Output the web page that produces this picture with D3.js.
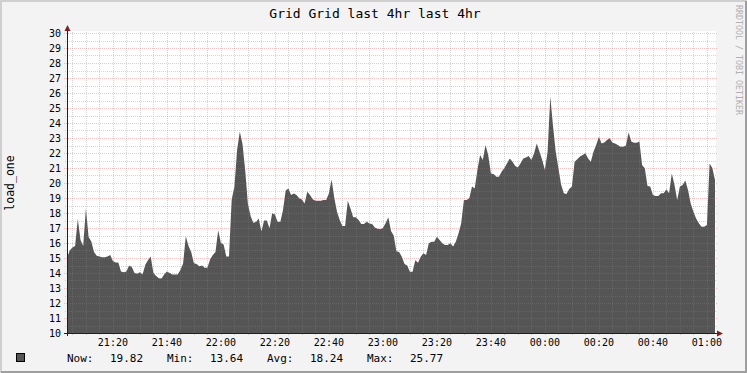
<!DOCTYPE html>
<html>
<head>
<meta charset="utf-8">
<script src="https://cdn.jsdelivr.net/npm/d3@7"></script>
<style>
    body { margin: 0; }
    svg { display: block; font-family: 'DejaVu Sans Mono', monospace; }
</style>
</head>
<body>
<div id="chart"></div>
<script>
const chartTitle = 'Grid Grid last 4hr last 4hr';
const yAxisLabel = 'load_one';
const watermark = 'RRDTOOL / TOBI OETIKER';

// one sample per minute starting at 21:03
const startTime = new Date(2024, 0, 1, 21, 3);
const endTime = new Date(2024, 0, 2, 1, 3);
const loadValues = [
    15.0, 15.5, 15.7, 15.8, 17.6, 16.2, 15.8, 18.3, 16.4, 16.1,
    15.4, 15.15, 15.1, 15.05, 15.05, 15.1, 15.2, 14.8, 14.7, 14.7,
    14.1, 14.05, 14.1, 14.5, 14.4, 14.0, 13.95, 14.05, 13.9, 14.55,
    14.85, 15.1, 14.0, 13.8, 13.65, 13.64, 13.9, 14.1, 14.0, 13.9,
    13.9, 13.9, 14.2, 14.64, 16.45, 15.8, 15.4, 14.65, 14.6, 14.45,
    14.5, 14.35, 14.35, 14.9, 15.2, 15.4, 16.85, 16.0, 15.9, 15.1,
    15.1, 18.9, 19.75, 22.2, 23.42, 22.6, 20.85, 18.6, 17.8, 17.35,
    17.4, 17.64, 16.76, 17.5, 17.5, 16.98, 17.98, 17.9, 17.42, 17.4,
    18.2, 19.5, 19.64, 19.2, 19.3, 19.2, 18.98, 18.9, 18.64, 19.42,
    19.2, 18.91, 18.82, 18.82, 18.82, 18.87, 18.87, 19.3, 20.24, 19.0,
    18.09, 17.53, 17.13, 17.13, 18.82, 18.3, 17.71, 17.71, 17.53, 17.27,
    17.27, 17.42, 17.3, 17.27, 17.04, 16.95, 16.91, 17.0, 17.31, 17.71,
    16.8, 16.5, 15.45, 15.4, 15.09, 14.6, 14.5, 14.09, 14.09, 14.85,
    14.69, 15.09, 15.31, 15.2, 15.98, 16.09, 16.09, 16.42, 16.2, 15.98,
    15.87, 15.87, 15.98, 15.76, 16.09, 16.64, 17.31, 18.87, 18.87, 18.98,
    19.76, 19.64, 20.87, 21.87, 21.53, 22.53, 21.87, 20.64, 20.6, 20.42,
    20.42, 20.76, 21.0, 21.31, 21.64, 21.42, 21.13, 21.04, 21.31, 21.64,
    21.7, 21.8, 21.53, 21.98, 22.64, 22.09, 21.53, 20.87, 22.09, 25.77,
    23.8, 22.09, 20.98, 19.9, 19.31, 19.27, 19.6, 19.76, 21.42, 21.58,
    21.76, 21.87, 21.98, 21.64, 21.42, 22.09, 22.53, 23.09, 22.64, 22.7,
    22.87, 22.98, 22.69, 22.64, 22.53, 22.42, 22.42, 22.5, 23.36, 22.76,
    22.69, 22.69, 22.76, 21.2, 20.98, 19.8, 19.76, 19.2, 19.13, 19.13,
    19.31, 19.31, 19.58, 19.31, 20.64, 19.87, 18.87, 19.76, 19.87, 20.16,
    19.53, 18.64, 18.09, 17.64, 17.31, 17.09, 17.09, 17.2, 21.3, 21.0,
    20.2
];

const yTickValues = d3.range(10, 31);
const legendLabels = ['Now:', 'Min:', 'Avg:', 'Max:'];
const legendValues = ['19.82', '13.64', '18.24', '25.77'];

const config = {
    width: 747,
    height: 373,
    plot: { left: 67, right: 715, top: 33, bottom: 333 },
    colors: {
        back: '#f3f3f3',
        shadeA: '#cfcfcf',
        shadeB: '#9e9e9e',
        canvas: '#ffffff',
        area: '#555555',
        grid: 'rgba(150,150,150,0.45)',
        mgrid: 'rgba(225,90,90,0.4)',
        overlay: 'rgba(255,255,255,0.09)',
        axis: '#1f1f1f',
        arrow: '#801f1f'
    }
};

const data = loadValues.map((v, i) => ({ time: d3.timeMinute.offset(startTime, i), value: v }));

const svg = d3.select('#chart')
    .append('svg')
    .attr('width', config.width)
    .attr('height', config.height)
    ;

// background and the 3d frame
svg.append('rect')
    .attr('width', config.width)
    .attr('height', config.height)
    .attr('fill', config.colors.back);

svg.append('path')
    .attr('d', `M0 ${config.height} V0 H${config.width}`)
    .attr('fill', 'none')
    .attr('stroke', config.colors.shadeA)
    .attr('stroke-width', 4);

svg.append('path')
    .attr('d', `M1 ${config.height - 1} H${config.width - 1} V1`)
    .attr('fill', 'none')
    .attr('stroke', config.colors.shadeB)
    .attr('stroke-width', 2);

const p = config.plot;

const x = d3.scaleTime()
    .domain([startTime, endTime])
    .range([p.left, p.right]);

const y = d3.scaleLinear()
    .domain([10, 30])
    .range([p.bottom, p.top]);

svg.append('rect')
    .attr('x', p.left)
    .attr('y', p.top - 2)
    .attr('width', p.right - p.left + 1)
    .attr('height', p.bottom - p.top + 2)
    .attr('fill', config.colors.canvas);

const crisp = v => Math.round(v) + 0.5;
let minorTimes = d3.timeMinute.every(5).range(startTime, endTime).filter(t => t.getMinutes() % 20 != 0);
let majorTimes = d3.timeMinute.every(20).range(startTime, endTime);
let halfValues = d3.range(10.5, 30, 1);

// draws the dotted grid; called once under the data and once faintly over it
function drawGrid(minorColor, majorColor) {
    let grid = svg.append('g')
        .attr('stroke-dasharray', '1,1')
        .attr('shape-rendering', 'crispEdges');

    grid.selectAll('.vminor')
        .data(minorTimes)
        .enter()
        .append('line')
        .attr('x1', d => crisp(x(d)))
        .attr('x2', d => crisp(x(d)))
        .attr('y1', p.top - 1)
        .attr('y2', p.bottom + 2)
        .attr('stroke', minorColor);

    grid.selectAll('.hminor')
        .data(halfValues)
        .enter()
        .append('line')
        .attr('x1', p.left - 2)
        .attr('x2', p.right + 2)
        .attr('y1', d => crisp(y(d)))
        .attr('y2', d => crisp(y(d)))
        .attr('stroke', minorColor);

    grid.selectAll('.vmajor')
        .data(majorTimes)
        .enter()
        .append('line')
        .attr('x1', d => crisp(x(d)))
        .attr('x2', d => crisp(x(d)))
        .attr('y1', p.top - 1)
        .attr('y2', p.bottom + 3)
        .attr('stroke', majorColor);

    grid.selectAll('.hmajor')
        .data(yTickValues)
        .enter()
        .append('line')
        .attr('x1', p.left - 3)
        .attr('x2', p.right + 2)
        .attr('y1', d => crisp(y(d)))
        .attr('y2', d => crisp(y(d)))
        .attr('stroke', majorColor);
}

drawGrid(config.colors.grid, config.colors.mgrid);

// the load area
let area = d3.area()
    .x(d => x(d.time))
    .y0(y(10))
    .y1(d => y(d.value));

svg.append('path')
    .datum(data)
    .attr('d', area)
    .attr('fill', config.colors.area);

drawGrid(config.colors.overlay, config.colors.overlay);

// axes
svg.append('line')
    .attr('x1', crisp(p.left))
    .attr('x2', crisp(p.left))
    .attr('y1', p.bottom + 3)
    .attr('y2', p.top - 4)
    .attr('stroke', config.colors.axis)
    .attr('shape-rendering', 'crispEdges');

svg.append('line')
    .attr('x1', p.left - 3)
    .attr('x2', p.right + 4)
    .attr('y1', crisp(p.bottom))
    .attr('y2', crisp(p.bottom))
    .attr('stroke', config.colors.axis)
    .attr('shape-rendering', 'crispEdges');

svg.append('path')
    .attr('d', `M${p.left - 2.5} ${p.top - 2} L${p.left + 0.5} ${p.top - 8} L${p.left + 3.5} ${p.top - 2} Z`)
    .attr('fill', config.colors.arrow);

svg.append('path')
    .attr('d', `M${p.right + 2} ${p.bottom - 2.5} L${p.right + 8} ${p.bottom + 0.5} L${p.right + 2} ${p.bottom + 3.5} Z`)
    .attr('fill', config.colors.arrow);

// tick labels
svg.append('g')
    .selectAll('text')
    .data(yTickValues)
    .enter()
    .append('text')
    .attr('x', p.left - 6)
    .attr('y', d => y(d))
    .attr('dy', '0.36em')
    .attr('text-anchor', 'end')
    .attr('font-size', 10)
    .text(d => d);

let timeFormat = d3.timeFormat('%H:%M');
svg.append('g')
    .selectAll('text')
    .data(majorTimes)
    .enter()
    .append('text')
    .attr('x', d => x(d))
    .attr('y', p.bottom + 13)
    .attr('text-anchor', 'middle')
    .attr('font-size', 10)
    .text(d => timeFormat(d));

// title, axis label, watermark
svg.append('text')
    .attr('x', 375)
    .attr('y', 18)
    .attr('text-anchor', 'middle')
    .attr('font-size', 13)
    .text(chartTitle);

svg.append('text')
    .attr('transform', `translate(14, ${(p.top + p.bottom) / 2}) rotate(-90)`)
    .attr('text-anchor', 'middle')
    .attr('font-size', 11.5)
    .text(yAxisLabel);

svg.append('text')
    .attr('transform', 'translate(736, 5) rotate(90)')
    .attr('font-size', 8.3)
    .attr('fill', '#b0b0b0')
    .text(watermark);

// legend
svg.append('rect')
    .attr('x', 16.5)
    .attr('y', 353.5)
    .attr('width', 8)
    .attr('height', 8)
    .attr('fill', config.colors.area)
    .attr('stroke', '#000');

let legend = svg.append('g')
    .attr('font-size', 11);

legend.selectAll('.lbl')
    .data(legendLabels)
    .enter()
    .append('text')
    .attr('x', (d, i) => 67 + i * 100)
    .attr('y', 362)
    .text(d => d);

legend.selectAll('.val')
    .data(legendValues)
    .enter()
    .append('text')
    .attr('x', (d, i) => 110 + i * 100)
    .attr('y', 362)
    .text(d => d);
</script>
</body>
</html>
